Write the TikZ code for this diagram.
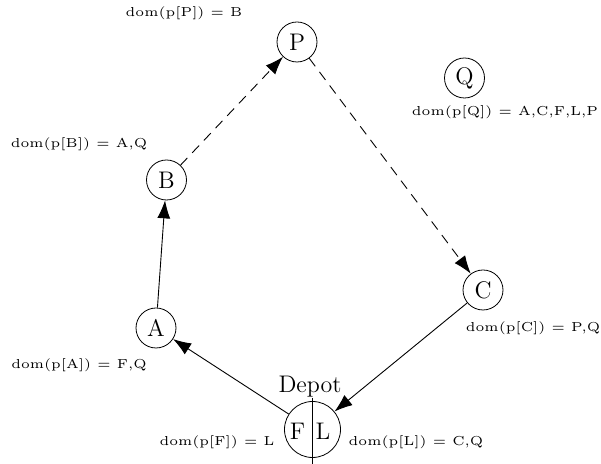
\documentclass[tikz,border=0pt]{standalone}
\usetikzlibrary{arrows.meta}
\usepackage{graphicx}
\begin{document}
\begin{tikzpicture}[x=0.5pt,y=-0.5pt,
  vtx/.style={draw,circle,minimum size=20pt,inner sep=0pt,font=\large},
  depotc/.style={draw,circle,minimum size=28pt,inner sep=0pt},
  lbl/.style={inner sep=0pt},
  txt/.style={inner sep=0pt,font=\large},
  arr/.style={-{Latex[length=9pt,width=6.5pt]},line width=0.45pt},
  dsh/.style={arr,dash pattern=on 5pt off 3.5pt}]
\newcommand{\lab}[1]{\scalebox{1.3}{\tiny #1}}
\useasboundingbox (0,0) rectangle (601,464);
\node[vtx] (P) at (297,42) {P};
\node[vtx] (Q) at (464.5,78) {Q};
\node[vtx] (B) at (166.5,180) {B};
\node[vtx] (C) at (483,290) {C};
\node[vtx] (A) at (156,328) {A};
\node[depotc] (D) at (312.5,429.5) {};
\coordinate (Dtop) at (312.5,398);
\coordinate (Dbot) at (312.5,464);
\draw (Dtop) -- (Dbot);
\node[txt] (F) at (297.5,431) {F};
\node[txt] (L) at (323,431) {L};
\node[txt] (dep) at (310,387) {Depot};
\node[lbl] (lP) at (184,13) {\lab{dom(p[P]) = B}};
\node[lbl] (lQ) at (505,112) {\lab{dom(p[Q]) = A,C,F,L,P}};
\node[lbl] (lB) at (79,144) {\lab{dom(p[B]) = A,Q}};
\node[lbl] (lC) at (533,328) {\lab{dom(p[C]) = P,Q}};
\node[lbl] (lA) at (79,365) {\lab{dom(p[A]) = F,Q}};
\node[lbl] (lF) at (217,442) {\lab{dom(p[F]) = L}};
\node[lbl] (lL) at (416,442) {\lab{dom(p[L]) = C,Q}};
\draw[dsh] (B) -- (P);
\draw[dsh] (P) -- (C);
\draw[arr] (A) -- (B);
\draw[arr] (D) -- (A);
\draw[arr] (C) -- (D);
\end{tikzpicture}
\end{document}
